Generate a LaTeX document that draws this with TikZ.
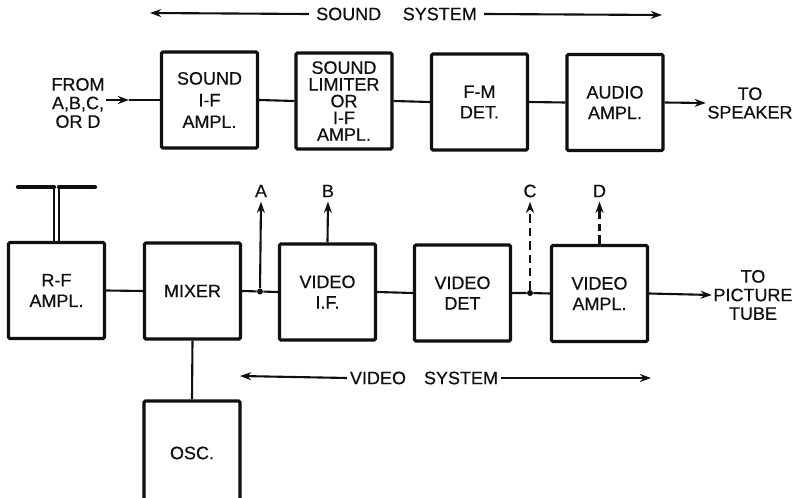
\documentclass[tikz,border=0pt]{standalone}
\usepackage{fontspec}
\setmainfont[FakeBold=0.5]{Liberation Sans}
\definecolor{printink}{HTML}{101010}
\usetikzlibrary{arrows.meta,positioning}

\begin{document}
\begin{tikzpicture}[x=0.025cm,y=-0.025cm,font=\fontsize{12.8}{14.6}\selectfont,text=printink]
        \tikzset{
            block/.style={
                draw=printink,
                fill=white,
                rounded corners=1pt,
                line width=2.3pt,
                minimum width=2.4cm,
                minimum height=2.4cm,
                inner sep=0pt,
                align=center
            },
            blockwide/.style={
                block,
                font=\fontsize{12.8}{15.4}\selectfont
            },
            blocktight/.style={
                block,
                font=\fontsize{12.8}{11.9}\selectfont
            },
            caption/.style={
                inner sep=1pt,
                align=center,
                font=\fontsize{12.8}{13.2}\selectfont
            },
            tapname/.style={
                inner sep=3pt
            },
            sigline/.style={
                draw=printink,
                line width=1.5pt
            },
            sigarrow/.style={
                sigline,
                -{Stealth[length=2.8mm,width=2mm]}
            },
            sigdashed/.style={
                sigarrow,
                dash pattern=on 6pt off 3.5pt
            },
            sigbroken/.style={
                sigarrow,
                dash pattern=on 0pt off 3pt on 5pt off 3.5pt on 20pt
            },
            junction/.style={
                circle,
                fill=printink,
                inner sep=0pt,
                minimum size=1.5mm
            },
            aerial/.style={
                draw=printink,
                line width=3pt,
                line cap=round
            }
        }
        \useasboundingbox (0,0) rectangle (797,498);

        \node[blockwide] (soundif) at (209.5,100) {SOUND\\I-F\\AMPL.};
        \node[blocktight] (limiter) at (344,101) {SOUND\\LIMITER\\OR\\I-F\\AMPL.};
        \node[block] (fmdet) at (479.5,102) {F-M\\DET.};
        \node[block] (audioamp) at (615,102.5) {AUDIO\\AMPL.};

        \node[block] (rfamp) at (56.5,290.5) {R-F\\AMPL.};
        \node[block] (mixer) at (192.5,291) {MIXER};
        \node[block] (videoif) at (327.5,292) {VIDEO\\I.F.};
        \node[block] (videodet) at (462.5,293) {VIDEO\\DET};
        \node[block] (videoamp) at (599.5,293.5) {VIDEO\\AMPL.};
        % runs off the foot of the page
        \node[block,minimum height=2.6cm] (osc) at (192,453) {OSC.};

        \node[caption] (fromtap) at (78,103) {FROM\\A,B,C,\\OR D};
        \node[caption] (speaker) at (750,103) {TO\\SPEAKER};
        \node[caption] (tube) at (753,295) {TO\\PICTURE\\TUBE};

        \node[inner xsep=5pt,inner ysep=1pt] (soundsys) at (396.5,14) {SOUND\hspace{1.2em}SYSTEM};
        \node[inner xsep=2pt,inner ysep=1pt] (videosys) at (424,378) {VIDEO\quad SYSTEM};
        \coordinate (soundleft) at (150,13);
        \coordinate (soundright) at (662,15);
        \coordinate (videoleft) at (240,376);
        \coordinate (videoright) at (651,378);

        \node[tapname] (tapa) at (261,191) {A};
        \node[tapname] (tapb) at (328,191) {B};
        \node[tapname] (tapc) at (530,191) {C};
        \node[tapname] (tapd) at (599.5,191) {D};
        \node[junction] (junca) at (260,291.5) {};
        \node[junction] (juncc) at (530,293) {};
        \coordinate (dbreak) at (599.5,235);
        \coordinate (fromtip) at (129,100);

        % sound row
        \draw[sigarrow] (fromtap.east |- fromtip) -- (fromtip);
        \draw[sigline] (fromtip) -- (soundif.west);
        \draw[sigline] (soundif.east) -- (limiter.west);
        \draw[sigline] (limiter.east) -- (fmdet.west);
        \draw[sigline] (fmdet.east) -- (audioamp.west);
        \draw[sigarrow] (audioamp.east) -- (speaker.west);

        % video row
        \draw[sigline] (rfamp.east) -- (mixer.west);
        \draw[sigline] (mixer.east) -- (junca) -- (videoif.west);
        \draw[sigline] (videoif.east) -- (videodet.west);
        \draw[sigline] (videodet.east) -- (juncc) -- (videoamp.west);
        \draw[sigarrow] (videoamp.east) -- (tube.west);
        \draw[sigline] (mixer.south) -- (osc.north);

        \draw[sigarrow] (junca) -- (tapa.south);
        \draw[sigarrow] (videoif.north) -- (tapb.south);
        \draw[sigdashed] (juncc) -- (tapc.south);
        \draw[sigline] (videoamp.north) -- (dbreak);
        \draw[sigbroken] (dbreak) -- (tapd.south);

        % antenna
        \coordinate (aerialleft) at (54,243);
        \coordinate (aerialright) at (59,243);
        \draw[sigline] (aerialleft) -- ++(0,-56);
        \draw[sigline] (aerialright) -- ++(0,-56);
        \draw[aerial] (aerialleft) ++(0,-56) -- ++(-36,0);
        \draw[aerial] (aerialright) ++(0,-56) -- ++(36,0);

        % system arrows
        \draw[sigarrow] (soundsys.west) -- (soundleft);
        \draw[sigarrow] (soundsys.east) -- (soundright);
        \draw[sigarrow] (videosys.west) -- (videoleft);
        \draw[sigarrow] (videosys.east) -- (videoright);
    \end{tikzpicture}
\end{document}
